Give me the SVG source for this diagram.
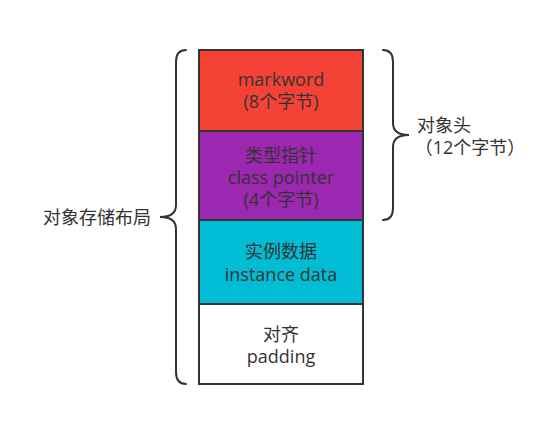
<svg xmlns="http://www.w3.org/2000/svg" width="557" height="421" viewBox="0 0 557 421">
<style>
text{font-family:"Open Sans","Noto Sans CJK SC",sans-serif;font-size:18px;fill:#333;text-anchor:middle}
.blk{stroke:#333;stroke-width:2}
.brace{fill:none;stroke:#333;stroke-width:2;stroke-linecap:round}
</style>
<rect width="557" height="421" fill="#fff"/>
<g id="markword">
<rect class="blk" x="199" y="50" width="164" height="81" fill="#F44336"/>
<text x="281" y="86">markword</text>
<text x="281" y="108">(8个字节)</text>
</g>
<g id="classpointer">
<rect class="blk" x="199" y="131" width="164" height="89" fill="#9C27B0"/>
<text x="281" y="162">类型指针</text>
<text x="281" y="184">class pointer</text>
<text x="281" y="206">(4个字节)</text>
</g>
<g id="instancedata">
<rect class="blk" x="199" y="220" width="164" height="84" fill="#00BCD4"/>
<text x="281" y="258">实例数据</text>
<text x="281" y="281">instance data</text>
</g>
<g id="padding">
<rect class="blk" x="199" y="304" width="164" height="80" fill="#fff"/>
<text x="281" y="341">对齐</text>
<text x="281" y="363">padding</text>
</g>
<g id="connectors">
<path class="brace" d="M186,50 Q176,50 176,62 L176,205 Q176,217 160,217 Q176,217 176,229 L176,372 Q176,384 186,384"/>
<path class="brace" d="M383,50 Q393,50 393,62 L393,123 Q393,135 409,135 Q393,135 393,147 L393,208 Q393,220 383,220"/>
</g>
<g id="label-header">
<text x="444" y="132">对象头</text>
<text x="470" y="154">（12个字节）</text>
</g>
<g id="label-layout">
<text x="97" y="224">对象存储布局</text>
</g>
</svg>
